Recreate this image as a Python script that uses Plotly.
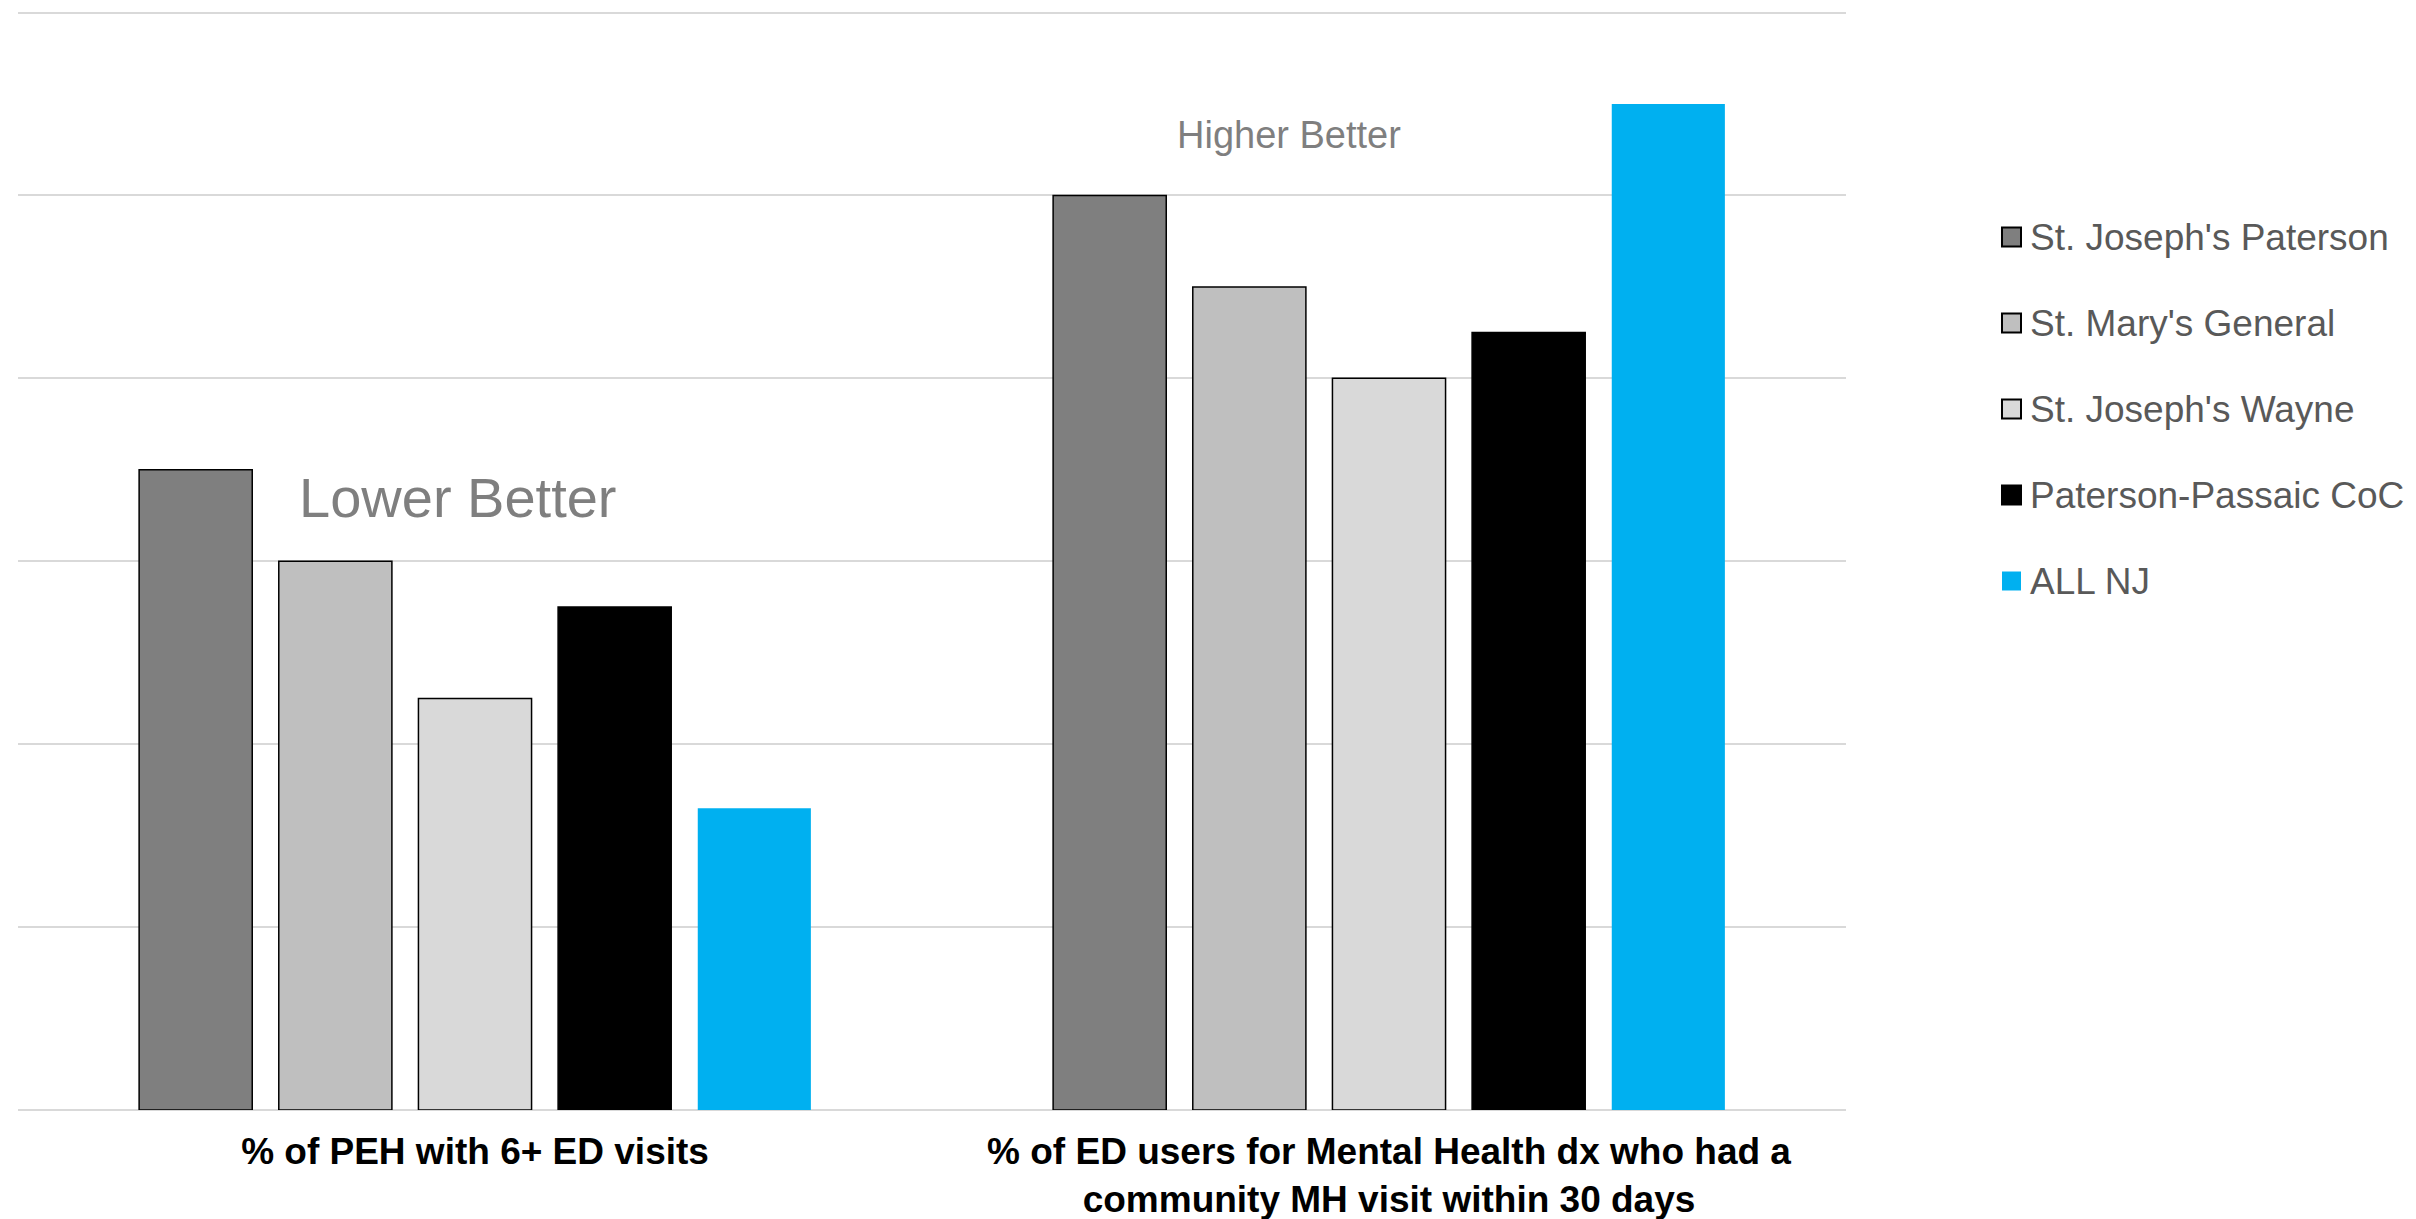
import plotly.graph_objects as go

# ---- data ----
categories = [
    "% of PEH with 6+ ED visits",
    "% of ED users for Mental Health dx who had a<br>community MH visit within 30 days",
]
series_names = [
    "St. Joseph's Paterson",
    "St. Mary's General",
    "St. Joseph's Wayne",
    "Paterson-Passaic CoC",
    "ALL NJ",
]
values_paterson = [3.5, 5.0]
values_marys = [3.0, 4.5]
values_wayne = [2.25, 4.0]
values_coc = [2.75, 4.25]
values_allnj = [1.65, 5.5]
series_values = [values_paterson, values_marys, values_wayne, values_coc, values_allnj]

colors = ["#7f7f7f", "#bfbfbf", "#d9d9d9", "#000000", "#00b0f0"]
outline_w = [1.5, 1.5, 1.5, 1.5, 0]

W, H = 2416, 1219
ML, MR, MT, MB = 18, 570, 0, 109
PW = W - ML - MR
PH = H - MT - MB
UNIT = (H - MB - 12.5) / 6.0  # pixels per unit, top gridline at y ~12.5
Y_TOP = PH / UNIT


def px_x(x):
    return (x - ML) / PW


def px_y(y):
    return (H - MB - y) / PH


FONT = "Liberation Sans, Arial, sans-serif"

fig = go.Figure()
for name, vals, c, lw in zip(series_names, series_values, colors, outline_w):
    fig.add_trace(
        go.Bar(
            name=name,
            x=categories,
            y=vals,
            marker=dict(color=c, line=dict(color="#000000", width=lw)),
            showlegend=False,
        )
    )

shapes = []
annotations = []

# custom legend
row_y = [237, 323, 409, 495, 581]
for name, c, lw, yy in zip(series_names, colors, outline_w, row_y):
    shapes.append(
        dict(
            type="rect",
            xref="paper",
            yref="paper",
            x0=px_x(2002),
            x1=px_x(2021),
            y0=px_y(yy - 9.5),
            y1=px_y(yy + 9.5),
            fillcolor=c,
            line=dict(color="#000000", width=2 if lw > 0 else 0),
        )
    )
    annotations.append(
        dict(
            text=name,
            xref="paper",
            yref="paper",
            x=px_x(2028),
            y=px_y(yy),
            xanchor="left",
            yanchor="middle",
            showarrow=False,
            font=dict(family=FONT, size=37, color="#595959"),
        )
    )

annotations.append(
    dict(
        text="Lower Better",
        xref="paper",
        yref="paper",
        x=px_x(458),
        y=px_y(498),
        xanchor="center",
        yanchor="middle",
        showarrow=False,
        font=dict(family=FONT, size=56, color="#7f7f7f"),
    )
)
annotations.append(
    dict(
        text="Higher Better",
        xref="paper",
        yref="paper",
        x=px_x(1289),
        y=px_y(135),
        xanchor="center",
        yanchor="middle",
        showarrow=False,
        font=dict(family=FONT, size=38, color="#7f7f7f"),
    )
)

fig.update_layout(
    width=W,
    height=H,
    margin=dict(l=ML, r=MR, t=MT, b=MB, pad=0, autoexpand=False),
    paper_bgcolor="#ffffff",
    plot_bgcolor="#ffffff",
    barmode="group",
    bargap=0.236,
    bargroupgap=0.19,
    showlegend=False,
    shapes=shapes,
    annotations=annotations,
    font=dict(family=FONT),
)
fig.update_xaxes(
    showgrid=False,
    showline=False,
    ticks="",
    automargin=False,
    tickfont=dict(family=FONT, size=37, color="#000000", weight="bold"),
    ticklabelstandoff=16,
)
fig.update_yaxes(
    range=[0, Y_TOP],
    tickvals=[0, 1, 2, 3, 4, 5, 6],
    showgrid=True,
    gridcolor="#d9d9d9",
    gridwidth=2,
    zeroline=True,
    zerolinecolor="#d9d9d9",
    zerolinewidth=2,
    showticklabels=False,
    ticks="",
    showline=False,
    automargin=False,
)

fig.write_html("out.html")
